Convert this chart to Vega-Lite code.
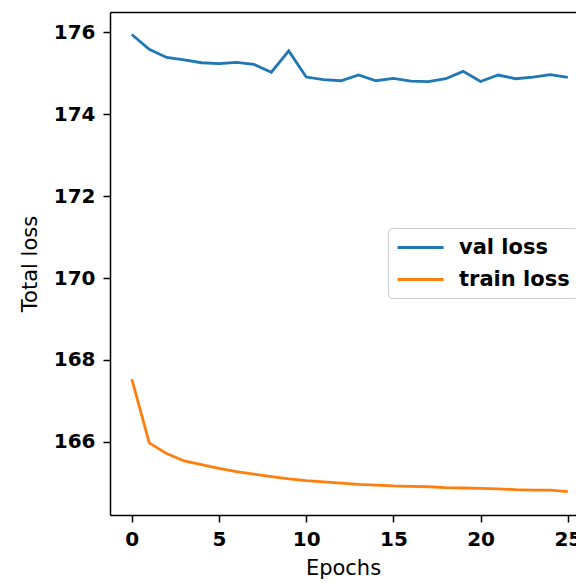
{
  "$schema": "https://vega.github.io/schema/vega-lite/v6.json",
  "autosize": "none",
  "padding": {"left": 110, "top": 12, "right": 0, "bottom": 68},
  "width": 466,
  "height": 503,
  "background": "white",
  "config": {
    "font": "DejaVu Sans",
    "view": {"stroke": null},
    "axis": {
      "domainColor": "black", "domainWidth": 1.5,
      "tickColor": "black", "tickWidth": 1.5, "tickSize": 7,
      "labelColor": "black", "labelFont": "DejaVu Sans", "labelFontSize": 20, "labelFontWeight": "bold",
      "titleColor": "black", "titleFont": "DejaVu Sans", "titleFontSize": 21, "titleFontWeight": "normal",
      "grid": false, "labelFlush": false, "labelOverlap": false, "labelBound": false
    }
  },
  "data": {"values": [
    {"epoch": 0, "series": "val loss", "loss": 175.95},
    {"epoch": 1, "series": "val loss", "loss": 175.59},
    {"epoch": 2, "series": "val loss", "loss": 175.39},
    {"epoch": 3, "series": "val loss", "loss": 175.33},
    {"epoch": 4, "series": "val loss", "loss": 175.26},
    {"epoch": 5, "series": "val loss", "loss": 175.24},
    {"epoch": 6, "series": "val loss", "loss": 175.27},
    {"epoch": 7, "series": "val loss", "loss": 175.22},
    {"epoch": 8, "series": "val loss", "loss": 175.03},
    {"epoch": 9, "series": "val loss", "loss": 175.55},
    {"epoch": 10, "series": "val loss", "loss": 174.91},
    {"epoch": 11, "series": "val loss", "loss": 174.85},
    {"epoch": 12, "series": "val loss", "loss": 174.82},
    {"epoch": 13, "series": "val loss", "loss": 174.96},
    {"epoch": 14, "series": "val loss", "loss": 174.82},
    {"epoch": 15, "series": "val loss", "loss": 174.88},
    {"epoch": 16, "series": "val loss", "loss": 174.81},
    {"epoch": 17, "series": "val loss", "loss": 174.80},
    {"epoch": 18, "series": "val loss", "loss": 174.87},
    {"epoch": 19, "series": "val loss", "loss": 175.05},
    {"epoch": 20, "series": "val loss", "loss": 174.80},
    {"epoch": 21, "series": "val loss", "loss": 174.96},
    {"epoch": 22, "series": "val loss", "loss": 174.87},
    {"epoch": 23, "series": "val loss", "loss": 174.91},
    {"epoch": 24, "series": "val loss", "loss": 174.97},
    {"epoch": 25, "series": "val loss", "loss": 174.90},
    {"epoch": 0, "series": "train loss", "loss": 167.53},
    {"epoch": 1, "series": "train loss", "loss": 165.97},
    {"epoch": 2, "series": "train loss", "loss": 165.71},
    {"epoch": 3, "series": "train loss", "loss": 165.53},
    {"epoch": 4, "series": "train loss", "loss": 165.44},
    {"epoch": 5, "series": "train loss", "loss": 165.35},
    {"epoch": 6, "series": "train loss", "loss": 165.27},
    {"epoch": 7, "series": "train loss", "loss": 165.21},
    {"epoch": 8, "series": "train loss", "loss": 165.15},
    {"epoch": 9, "series": "train loss", "loss": 165.09},
    {"epoch": 10, "series": "train loss", "loss": 165.05},
    {"epoch": 11, "series": "train loss", "loss": 165.02},
    {"epoch": 12, "series": "train loss", "loss": 164.99},
    {"epoch": 13, "series": "train loss", "loss": 164.96},
    {"epoch": 14, "series": "train loss", "loss": 164.94},
    {"epoch": 15, "series": "train loss", "loss": 164.92},
    {"epoch": 16, "series": "train loss", "loss": 164.91},
    {"epoch": 17, "series": "train loss", "loss": 164.90},
    {"epoch": 18, "series": "train loss", "loss": 164.88},
    {"epoch": 19, "series": "train loss", "loss": 164.87},
    {"epoch": 20, "series": "train loss", "loss": 164.86},
    {"epoch": 21, "series": "train loss", "loss": 164.85},
    {"epoch": 22, "series": "train loss", "loss": 164.83},
    {"epoch": 23, "series": "train loss", "loss": 164.82},
    {"epoch": 24, "series": "train loss", "loss": 164.82},
    {"epoch": 25, "series": "train loss", "loss": 164.78}
  ]},
  "layer": [
    {
      "mark": {"type": "line", "strokeWidth": 2.8},
      "encoding": {
        "x": {"field": "epoch", "type": "quantitative",
              "scale": {"domain": [-1.25, 25.47], "nice": false, "zero": false},
              "axis": {"orient": "bottom", "title": "Epochs", "values": [0, 5, 10, 15, 20, 25], "labelPadding": 7, "titlePadding": 8}},
        "y": {"field": "loss", "type": "quantitative",
              "scale": {"domain": [164.21, 176.5], "nice": false, "zero": false},
              "axis": {"title": "Total loss", "values": [166, 168, 170, 172, 174, 176], "labelPadding": 8, "titlePadding": 13}},
        "color": {"field": "series", "type": "nominal",
                  "scale": {"domain": ["val loss", "train loss"], "range": ["#1f77b4", "#ff7f0e"]},
                  "legend": {
                    "title": null, "orient": "none", "legendX": 278, "legendY": 216,
                    "symbolType": "M-1,0H3.6", "symbolSize": 400, "symbolStrokeWidth": 2.8,
                    "labelFont": "DejaVu Sans", "labelFontSize": 21, "labelFontWeight": "bold", "labelColor": "black",
                    "labelOffset": 40, "rowPadding": 10, "padding": 8,
                    "strokeColor": "#cccccc", "fillColor": "rgba(255,255,255,0.8)", "cornerRadius": 4
                  }}
      }
    },
    {
      "mark": {"type": "line", "opacity": 0},
      "encoding": {
        "x": {"field": "epoch", "type": "quantitative",
              "scale": {"domain": [-1.25, 25.47], "nice": false, "zero": false},
              "axis": {"orient": "top", "title": null, "labels": false, "ticks": false}},
        "y": {"field": "loss", "type": "quantitative"}
      }
    }
  ],
  "resolve": {"axis": {"x": "independent"}}
}
